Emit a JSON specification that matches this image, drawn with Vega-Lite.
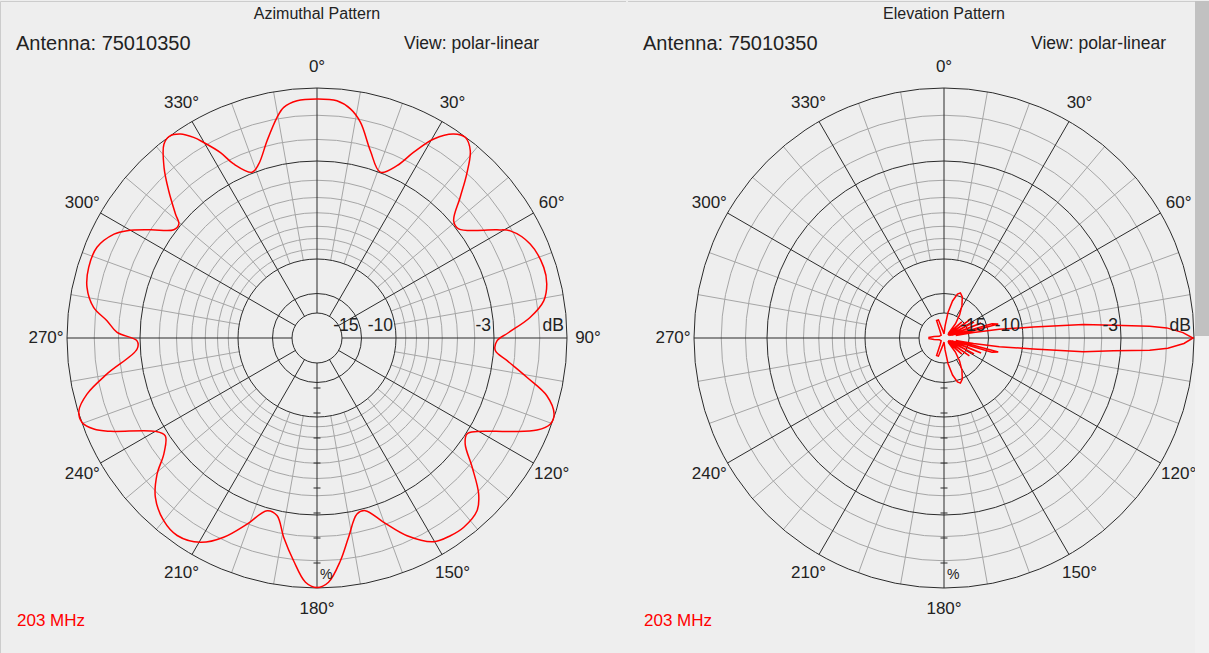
{
  "$schema": "https://vega.github.io/schema/vega-lite/v6.json",
  "background": "#eeeeee",
  "padding": 0,
  "spacing": 0,
  "config": {"view": {"stroke": null}, "font": "Liberation Sans", "text": {"font": "Liberation Sans"}},
  "datasets": {
    "az": [
      {"a":0,"v":0.956},{"a":4.8,"v":0.952},{"a":8.3,"v":0.926},{"a":11.4,"v":0.88},{"a":15.9,"v":0.779},{"a":20.9,"v":0.71},{"a":24.9,"v":0.76},{"a":27.5,"v":0.838},{"a":30.4,"v":0.923},{"a":33.8,"v":0.982},{"a":36.5,"v":0.998},{"a":39.3,"v":0.968},{"a":42.4,"v":0.888},{"a":45.5,"v":0.803},{"a":49.4,"v":0.72},{"a":52.4,"v":0.715},{"a":59,"v":0.84},{"a":61,"v":0.884},{"a":66.2,"v":0.932},{"a":72.7,"v":0.95},{"a":76.8,"v":0.944},{"a":80.7,"v":0.919},{"a":84.5,"v":0.856},{"a":88.5,"v":0.764},{"a":90.9,"v":0.72},{"a":94,"v":0.715},{"a":96.8,"v":0.766},{"a":100.6,"v":0.854},{"a":104.1,"v":0.948},{"a":107.8,"v":0.996},{"a":110.2,"v":0.995},{"a":112.7,"v":0.954},{"a":115.8,"v":0.859},{"a":120.3,"v":0.741},{"a":122.6,"v":0.712},{"a":125.6,"v":0.729},{"a":129.8,"v":0.808},{"a":134,"v":0.899},{"a":137.2,"v":0.942},{"a":142.2,"v":0.958},{"a":146,"v":0.954},{"a":150.2,"v":0.939},{"a":155.5,"v":0.869},{"a":160.1,"v":0.784},{"a":164.4,"v":0.717},{"a":167.2,"v":0.722},{"a":171,"v":0.807},{"a":174,"v":0.896},{"a":177.3,"v":0.978},{"a":180,"v":0.998},{"a":182.7,"v":0.978},{"a":186,"v":0.896},{"a":189.5,"v":0.808},{"a":192.7,"v":0.728},{"a":196.1,"v":0.719},{"a":200.6,"v":0.795},{"a":205.1,"v":0.88},{"a":209.7,"v":0.941},{"a":215.3,"v":0.968},{"a":220,"v":0.954},{"a":225.4,"v":0.908},{"a":229.6,"v":0.84},{"a":232.9,"v":0.768},{"a":237.2,"v":0.722},{"a":240,"v":0.747},{"a":245.7,"v":0.907},{"a":247.8,"v":0.964},{"a":250.3,"v":0.999},{"a":253,"v":0.996},{"a":256.3,"v":0.947},{"a":260.3,"v":0.852},{"a":266.5,"v":0.721},{"a":269.1,"v":0.72},{"a":271.6,"v":0.8},{"a":274.7,"v":0.843},{"a":277.8,"v":0.902},{"a":282.4,"v":0.942},{"a":287.2,"v":0.956},{"a":292.4,"v":0.952},{"a":297.1,"v":0.912},{"a":299.5,"v":0.872},{"a":303,"v":0.795},{"a":307.1,"v":0.718},{"a":309.5,"v":0.716},{"a":311.2,"v":0.752},{"a":314.8,"v":0.836},{"a":318.1,"v":0.916},{"a":321.7,"v":0.988},{"a":323.8,"v":1.0},{"a":326.2,"v":0.982},{"a":328.4,"v":0.942},{"a":329.9,"v":0.904},{"a":332.5,"v":0.836},{"a":334.4,"v":0.772},{"a":338.6,"v":0.712},{"a":341.5,"v":0.734},{"a":345.8,"v":0.814},{"a":349.7,"v":0.896},{"a":351.8,"v":0.932},{"a":355.2,"v":0.952},{"a":360,"v":0.956}
    ],
    "el": [
      {"a":0,"v":0.016},{"a":5,"v":0.048},{"a":9,"v":0.104},{"a":13,"v":0.152},{"a":17,"v":0.184},{"a":20,"v":0.192},{"a":24,"v":0.18},{"a":29,"v":0.148},{"a":34,"v":0.112},{"a":39,"v":0.072},{"a":44,"v":0.024},{"a":48,"v":0.096},{"a":50,"v":0.02},{"a":55,"v":0.124},{"a":58,"v":0.02},{"a":62,"v":0.136},{"a":65,"v":0.024},{"a":68,"v":0.16},{"a":71,"v":0.032},{"a":73.5,"v":0.2},{"a":75.5,"v":0.224},{"a":77.5,"v":0.048},{"a":79.5,"v":0.12},{"a":81,"v":0.224},{"a":83,"v":0.36},{"a":84.5,"v":0.56},{"a":85.7,"v":0.68},{"a":86.7,"v":0.824},{"a":87.4,"v":0.892},{"a":88.7,"v":0.956},{"a":90,"v":0.996},{"a":91.3,"v":0.96},{"a":92.6,"v":0.896},{"a":93.4,"v":0.824},{"a":94.3,"v":0.68},{"a":95.6,"v":0.56},{"a":97,"v":0.36},{"a":99,"v":0.224},{"a":100.5,"v":0.12},{"a":102.5,"v":0.048},{"a":104.5,"v":0.224},{"a":106.5,"v":0.2},{"a":109,"v":0.032},{"a":112,"v":0.16},{"a":115,"v":0.024},{"a":118,"v":0.136},{"a":122,"v":0.02},{"a":125,"v":0.124},{"a":130,"v":0.02},{"a":132,"v":0.096},{"a":136,"v":0.024},{"a":141,"v":0.072},{"a":146,"v":0.112},{"a":151,"v":0.148},{"a":156,"v":0.18},{"a":160,"v":0.192},{"a":163,"v":0.184},{"a":167,"v":0.152},{"a":171,"v":0.104},{"a":175,"v":0.048},{"a":180,"v":0.016},{"a":190,"v":0.032},{"a":197,"v":0.076},{"a":203,"v":0.076},{"a":210,"v":0.032},{"a":225,"v":0.016},{"a":250,"v":0.02},{"a":262,"v":0.04},{"a":268,"v":0.06},{"a":270,"v":0.06},{"a":272,"v":0.06},{"a":278,"v":0.04},{"a":290,"v":0.02},{"a":315,"v":0.016},{"a":330,"v":0.032},{"a":337,"v":0.076},{"a":343,"v":0.076},{"a":350,"v":0.032},{"a":360,"v":0.016}
    ],
    "ringsB": [{"v":1},{"v":0.708},{"v":0.316},{"v":0.178},{"v":0.1}],
    "ringsG": [{"v":0.891},{"v":0.794},{"v":0.631},{"v":0.562},{"v":0.501},{"v":0.447},{"v":0.398},{"v":0.355}],
    "spB": [{"a":0},{"a":30},{"a":60},{"a":90},{"a":120},{"a":150},{"a":180},{"a":210},{"a":240},{"a":270},{"a":300},{"a":330}],
    "spG": [{"a":10},{"a":20},{"a":40},{"a":50},{"a":70},{"a":80},{"a":100},{"a":110},{"a":130},{"a":140},{"a":160},{"a":170},{"a":190},{"a":200},{"a":220},{"a":230},{"a":250},{"a":260},{"a":280},{"a":290},{"a":310},{"a":320},{"a":340},{"a":350}],
    "ticks": [{"p":0.2},{"p":0.3},{"p":0.4},{"p":0.5},{"p":0.6},{"p":0.7},{"p":0.8},{"p":0.9}],
    "angLab": [{"a":0,"t":"0°"},{"a":30,"t":"30°"},{"a":60,"t":"60°"},{"a":90,"t":"90°"},{"a":120,"t":"120°"},{"a":150,"t":"150°"},{"a":180,"t":"180°"},{"a":210,"t":"210°"},{"a":240,"t":"240°"},{"a":270,"t":"270°"},{"a":300,"t":"300°"},{"a":330,"t":"330°"}],
    "dbLab": [{"t":"-15","v":0.178},{"t":"-10","v":0.316},{"t":"-3","v":0.708},{"t":"dB","v":1}],
    "headL": [{"t":"Azimuthal Pattern","k":"title"},{"t":"Antenna: 75010350","k":"ant"},{"t":"View: polar-linear","k":"view"},{"t":"203 MHz","k":"freq"},{"t":"%","k":"pct"}],
    "headR": [{"t":"Elevation Pattern","k":"title"},{"t":"Antenna: 75010350","k":"ant"},{"t":"View: polar-linear","k":"view"},{"t":"203 MHz","k":"freq"},{"t":"%","k":"pct"}]
  },
  "hconcat": [
    {
      "width": 627,
      "height": 653,
      "encoding": {
        "x": {"field": "px", "type": "quantitative", "scale": {"domain": [-1.268, 1.24], "nice": false, "zero": false}, "axis": null},
        "y": {"field": "py", "type": "quantitative", "scale": {"domain": [-1.264, 1.348], "nice": false, "zero": false}, "axis": null}
      },
      "layer": [
        {"data": {"values": [{"edge": "top"}, {"edge": "left"}]},
         "transform": [{"calculate": "-1.266", "as": "px"}, {"calculate": "1.346", "as": "py"},
                       {"calculate": "datum.edge == 'top' ? 1.236 : -1.266", "as": "qx"},
                       {"calculate": "datum.edge == 'top' ? 1.346 : -1.26", "as": "qy"}],
         "mark": {"type": "rule", "color": "#cccccc", "strokeWidth": 1},
         "encoding": {"x2": {"field": "qx"}, "y2": {"field": "qy"}}},
        {"data": {"name": "ringsG"}, "transform": [{"calculate": "0", "as": "px"}, {"calculate": "0", "as": "py"}],
         "mark": {"type": "point", "shape": "circle", "filled": false, "stroke": "#a6a6a6", "strokeWidth": 1, "opacity": 1},
         "encoding": {"size": {"field": "v", "type": "quantitative", "scale": {"type": "pow", "exponent": 2, "domain": [0, 1], "range": [0, 250000]}, "legend": null}}},
        {"data": {"name": "spG"}, "transform": [
           {"calculate": "0.316*sin(datum.a*PI/180)", "as": "px"}, {"calculate": "0.316*cos(datum.a*PI/180)", "as": "py"},
           {"calculate": "sin(datum.a*PI/180)", "as": "qx"}, {"calculate": "cos(datum.a*PI/180)", "as": "qy"}],
         "mark": {"type": "rule", "color": "#a6a6a6", "strokeWidth": 1},
         "encoding": {"x2": {"field": "qx"}, "y2": {"field": "qy"}}},
        {"data": {"name": "ringsB"}, "transform": [{"calculate": "0", "as": "px"}, {"calculate": "0", "as": "py"}],
         "mark": {"type": "point", "shape": "circle", "filled": false, "stroke": "#2b2b2b", "strokeWidth": 1, "opacity": 1},
         "encoding": {"size": {"field": "v", "type": "quantitative", "scale": {"type": "pow", "exponent": 2, "domain": [0, 1], "range": [0, 250000]}, "legend": null}}},
        {"data": {"name": "spB"}, "transform": [
           {"calculate": "0.1*sin(datum.a*PI/180)", "as": "px"}, {"calculate": "0.1*cos(datum.a*PI/180)", "as": "py"},
           {"calculate": "sin(datum.a*PI/180)", "as": "qx"}, {"calculate": "cos(datum.a*PI/180)", "as": "qy"}],
         "mark": {"type": "rule", "color": "#2b2b2b", "strokeWidth": 1},
         "encoding": {"x2": {"field": "qx"}, "y2": {"field": "qy"}}},
        {"data": {"name": "ticks"}, "transform": [{"calculate": "0", "as": "px"}, {"calculate": "-datum.p", "as": "py"}],
         "mark": {"type": "tick", "orient": "horizontal", "size": 7, "thickness": 1, "color": "#2b2b2b", "opacity": 1}},
        {"data": {"name": "az"}, "transform": [{"calculate": "datum.v*sin(datum.a*PI/180)", "as": "px"}, {"calculate": "datum.v*cos(datum.a*PI/180)", "as": "py"}],
         "mark": {"type": "line", "color": "#ff0000", "strokeWidth": 1.5, "interpolate": "catmull-rom"},
         "encoding": {"order": {"field": "a", "type": "quantitative"}}},
        {"data": {"name": "angLab"}, "transform": [{"calculate": "1.084*sin(datum.a*PI/180)", "as": "px"}, {"calculate": "1.084*cos(datum.a*PI/180)", "as": "py"}],
         "mark": {"type": "text", "fontSize": 17, "align": "center", "baseline": "middle", "color": "#222222"},
         "encoding": {"text": {"field": "t"}}},
        {"data": {"name": "dbLab"}, "transform": [{"calculate": "datum.v", "as": "px"}, {"calculate": "0.028", "as": "py"}],
         "mark": {"type": "text", "fontSize": 17.5, "align": "right", "baseline": "alphabetic", "dx": -3, "color": "#222222"},
         "encoding": {"text": {"field": "t"}}},
        {"data": {"name": "headL"}, "transform": [{"filter": "datum.k == 'title'"}, {"calculate": "0", "as": "px"}, {"calculate": "1.276", "as": "py"}],
         "mark": {"type": "text", "fontSize": 16, "align": "center", "baseline": "alphabetic", "color": "#222222"},
         "encoding": {"text": {"field": "t"}}},
        {"data": {"name": "headL"}, "transform": [{"filter": "datum.k == 'ant'"}, {"calculate": "-1.204", "as": "px"}, {"calculate": "1.152", "as": "py"}],
         "mark": {"type": "text", "fontSize": 20, "align": "left", "baseline": "alphabetic", "color": "#222222"},
         "encoding": {"text": {"field": "t"}}},
        {"data": {"name": "headL"}, "transform": [{"filter": "datum.k == 'view'"}, {"calculate": "0.888", "as": "px"}, {"calculate": "1.156", "as": "py"}],
         "mark": {"type": "text", "fontSize": 17.5, "align": "right", "baseline": "alphabetic", "color": "#222222"},
         "encoding": {"text": {"field": "t"}}},
        {"data": {"name": "headL"}, "transform": [{"filter": "datum.k == 'freq'"}, {"calculate": "-1.2", "as": "px"}, {"calculate": "-1.152", "as": "py"}],
         "mark": {"type": "text", "fontSize": 17, "align": "left", "baseline": "alphabetic", "color": "#ff0000"},
         "encoding": {"text": {"field": "t"}}},
        {"data": {"name": "headL"}, "transform": [{"filter": "datum.k == 'pct'"}, {"calculate": "0.012", "as": "px"}, {"calculate": "-0.964", "as": "py"}],
         "mark": {"type": "text", "fontSize": 14, "align": "left", "baseline": "alphabetic", "color": "#222222"},
         "encoding": {"text": {"field": "t"}}}
      ]
    },
    {
      "width": 582,
      "height": 653,
      "encoding": {
        "x": {"field": "px", "type": "quantitative", "scale": {"domain": [-1.268, 1.06], "nice": false, "zero": false}, "axis": null},
        "y": {"field": "py", "type": "quantitative", "scale": {"domain": [-1.264, 1.348], "nice": false, "zero": false}, "axis": null}
      },
      "layer": [
        {"data": {"values": [{"edge": "top"}]},
         "transform": [{"calculate": "-1.264", "as": "px"}, {"calculate": "1.346", "as": "py"},
                       {"calculate": "1.056", "as": "qx"}, {"calculate": "1.346", "as": "qy"}],
         "mark": {"type": "rule", "color": "#cccccc", "strokeWidth": 1},
         "encoding": {"x2": {"field": "qx"}, "y2": {"field": "qy"}}},
        {"data": {"name": "ringsG"}, "transform": [{"calculate": "0", "as": "px"}, {"calculate": "0", "as": "py"}],
         "mark": {"type": "point", "shape": "circle", "filled": false, "stroke": "#a6a6a6", "strokeWidth": 1, "opacity": 1},
         "encoding": {"size": {"field": "v", "type": "quantitative", "scale": {"type": "pow", "exponent": 2, "domain": [0, 1], "range": [0, 250000]}, "legend": null}}},
        {"data": {"name": "spG"}, "transform": [
           {"calculate": "0.316*sin(datum.a*PI/180)", "as": "px"}, {"calculate": "0.316*cos(datum.a*PI/180)", "as": "py"},
           {"calculate": "sin(datum.a*PI/180)", "as": "qx"}, {"calculate": "cos(datum.a*PI/180)", "as": "qy"}],
         "mark": {"type": "rule", "color": "#a6a6a6", "strokeWidth": 1},
         "encoding": {"x2": {"field": "qx"}, "y2": {"field": "qy"}}},
        {"data": {"name": "ringsB"}, "transform": [{"calculate": "0", "as": "px"}, {"calculate": "0", "as": "py"}],
         "mark": {"type": "point", "shape": "circle", "filled": false, "stroke": "#2b2b2b", "strokeWidth": 1, "opacity": 1},
         "encoding": {"size": {"field": "v", "type": "quantitative", "scale": {"type": "pow", "exponent": 2, "domain": [0, 1], "range": [0, 250000]}, "legend": null}}},
        {"data": {"name": "spB"}, "transform": [
           {"calculate": "0.1*sin(datum.a*PI/180)", "as": "px"}, {"calculate": "0.1*cos(datum.a*PI/180)", "as": "py"},
           {"calculate": "sin(datum.a*PI/180)", "as": "qx"}, {"calculate": "cos(datum.a*PI/180)", "as": "qy"}],
         "mark": {"type": "rule", "color": "#2b2b2b", "strokeWidth": 1},
         "encoding": {"x2": {"field": "qx"}, "y2": {"field": "qy"}}},
        {"data": {"name": "ticks"}, "transform": [{"calculate": "0", "as": "px"}, {"calculate": "-datum.p", "as": "py"}],
         "mark": {"type": "tick", "orient": "horizontal", "size": 7, "thickness": 1, "color": "#2b2b2b", "opacity": 1}},
        {"data": {"name": "el"}, "transform": [{"calculate": "datum.v*sin(datum.a*PI/180)", "as": "px"}, {"calculate": "datum.v*cos(datum.a*PI/180)", "as": "py"}],
         "mark": {"type": "line", "color": "#ff0000", "strokeWidth": 1.5},
         "encoding": {"order": {"field": "a", "type": "quantitative"}}},
        {"data": {"name": "angLab"}, "transform": [{"calculate": "1.084*sin(datum.a*PI/180)", "as": "px"}, {"calculate": "1.084*cos(datum.a*PI/180)", "as": "py"}],
         "mark": {"type": "text", "fontSize": 17, "align": "center", "baseline": "middle", "color": "#222222"},
         "encoding": {"text": {"field": "t"}}},
        {"data": {"name": "dbLab"}, "transform": [{"calculate": "datum.v", "as": "px"}, {"calculate": "0.028", "as": "py"}],
         "mark": {"type": "text", "fontSize": 17.5, "align": "right", "baseline": "alphabetic", "dx": -3, "color": "#222222"},
         "encoding": {"text": {"field": "t"}}},
        {"data": {"name": "headR"}, "transform": [{"filter": "datum.k == 'title'"}, {"calculate": "0", "as": "px"}, {"calculate": "1.276", "as": "py"}],
         "mark": {"type": "text", "fontSize": 16, "align": "center", "baseline": "alphabetic", "color": "#222222"},
         "encoding": {"text": {"field": "t"}}},
        {"data": {"name": "headR"}, "transform": [{"filter": "datum.k == 'ant'"}, {"calculate": "-1.204", "as": "px"}, {"calculate": "1.152", "as": "py"}],
         "mark": {"type": "text", "fontSize": 20, "align": "left", "baseline": "alphabetic", "color": "#222222"},
         "encoding": {"text": {"field": "t"}}},
        {"data": {"name": "headR"}, "transform": [{"filter": "datum.k == 'view'"}, {"calculate": "0.888", "as": "px"}, {"calculate": "1.156", "as": "py"}],
         "mark": {"type": "text", "fontSize": 17.5, "align": "right", "baseline": "alphabetic", "color": "#222222"},
         "encoding": {"text": {"field": "t"}}},
        {"data": {"name": "headR"}, "transform": [{"filter": "datum.k == 'freq'"}, {"calculate": "-1.2", "as": "px"}, {"calculate": "-1.152", "as": "py"}],
         "mark": {"type": "text", "fontSize": 17, "align": "left", "baseline": "alphabetic", "color": "#ff0000"},
         "encoding": {"text": {"field": "t"}}},
        {"data": {"name": "headR"}, "transform": [{"filter": "datum.k == 'pct'"}, {"calculate": "0.012", "as": "px"}, {"calculate": "-0.964", "as": "py"}],
         "mark": {"type": "text", "fontSize": 14, "align": "left", "baseline": "alphabetic", "color": "#222222"},
         "encoding": {"text": {"field": "t"}}},
        {"data": {"values": [{"part": "track", "c": "#f1f1f1"}, {"part": "thumb", "c": "#c1c1c1"}]},
         "transform": [{"calculate": "1.004", "as": "px"}, {"calculate": "1.06", "as": "qx"},
                       {"calculate": "datum.part == 'thumb' ? 1.348 : 0.008", "as": "py"},
                       {"calculate": "datum.part == 'thumb' ? 0.008 : -1.264", "as": "qy"}],
         "mark": {"type": "rect"},
         "encoding": {"x2": {"field": "qx"}, "y2": {"field": "qy"}, "color": {"field": "c", "type": "nominal", "scale": null}}}
      ]
    }
  ]
}
